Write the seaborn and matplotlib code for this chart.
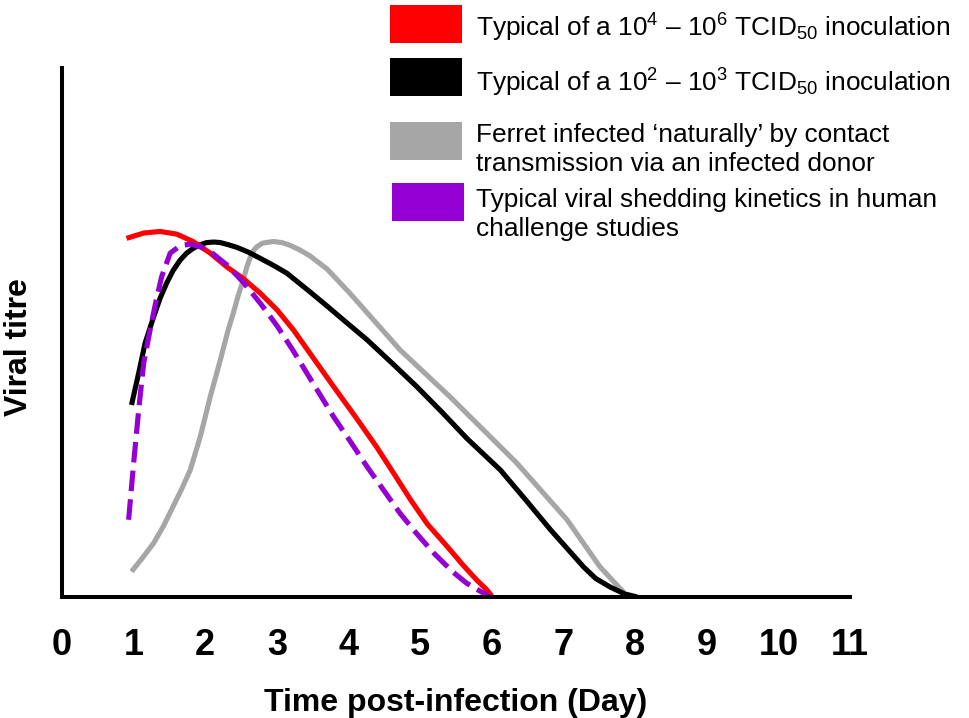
import matplotlib
matplotlib.use("Agg")
import matplotlib.pyplot as plt
from matplotlib.patches import Rectangle
import seaborn as sns

# values (day, relative titre 0-10)
red_day = [0.90, 1.14, 1.37, 1.60, 1.83, 2.07, 2.30, 2.53, 2.77, 3.00, 3.23, 3.46,
           3.79, 4.10, 4.39, 4.62, 4.86, 5.10, 5.38, 5.60, 5.79, 5.92, 6.00]
red_titre = [6.78, 6.88, 6.91, 6.86, 6.72, 6.50, 6.24, 6.02, 5.74, 5.43, 5.05, 4.61,
             3.98, 3.40, 2.84, 2.36, 1.85, 1.38, 0.95, 0.60, 0.32, 0.15, 0.02]

black_day = [0.97, 1.07, 1.16, 1.28, 1.37, 1.46, 1.55, 1.65, 1.74, 1.83, 1.93, 2.02,
             2.12, 2.21, 2.32, 2.44, 2.60, 2.77, 2.95, 3.14, 3.46, 3.70, 3.90, 4.26,
             4.60, 4.95, 5.30, 5.65, 6.12, 6.47, 6.82, 7.05, 7.28, 7.45, 7.65, 7.85, 8.03]
black_titre = [3.63, 4.23, 4.80, 5.30, 5.65, 5.93, 6.17, 6.37, 6.50, 6.59, 6.66, 6.70,
               6.71, 6.70, 6.66, 6.61, 6.52, 6.40, 6.27, 6.12, 5.77, 5.50, 5.27, 4.86,
               4.43, 3.98, 3.50, 3.00, 2.40, 1.84, 1.27, 0.92, 0.57, 0.35, 0.19, 0.06, 0.00]

grey_day = [0.97, 1.13, 1.28, 1.42, 1.55, 1.67, 1.79, 1.93, 2.07, 2.21, 2.32, 2.39,
            2.46, 2.53, 2.58, 2.63, 2.68, 2.72, 2.80, 2.95, 3.07, 3.18, 3.32, 3.46,
            3.70, 4.02, 4.72, 5.42, 6.35, 7.05, 7.51, 7.79, 7.85]
grey_titre = [0.48, 0.75, 1.02, 1.35, 1.71, 2.04, 2.40, 3.03, 3.79, 4.48, 5.05, 5.36,
              5.70, 5.99, 6.24, 6.43, 6.56, 6.62, 6.69, 6.72, 6.70, 6.65, 6.56, 6.45,
              6.20, 5.74, 4.67, 3.78, 2.53, 1.46, 0.57, 0.16, 0.08]

purple_day = [0.93, 1.00, 1.07, 1.14, 1.23, 1.31, 1.39, 1.51, 1.65, 1.79, 1.93, 2.07,
              2.30, 2.53, 2.77, 3.00, 3.23, 3.50, 3.79, 4.03, 4.26, 4.50, 4.72, 4.95,
              5.19, 5.45, 5.65, 5.85, 5.98]
purple_titre = [1.46, 2.53, 3.53, 4.42, 5.05, 5.58, 6.05, 6.50, 6.64, 6.67, 6.62, 6.53,
                6.28, 5.95, 5.55, 5.13, 4.65, 4.05, 3.41, 2.93, 2.46, 2.00, 1.58, 1.20,
                0.83, 0.48, 0.26, 0.10, 0.00]

series_labels = [
    r"Typical of a $\mathregular{10^4}$ – $\mathregular{10^6}$ $\mathregular{TCID_{50}}$ inoculation",
    r"Typical of a $\mathregular{10^2}$ – $\mathregular{10^3}$ $\mathregular{TCID_{50}}$ inoculation",
    "Ferret infected ‘naturally’ by contact\ntransmission via an infected donor",
    "Typical viral shedding kinetics in human\nchallenge studies",
]
series_colors = ["#FF0000", "#000000", "#A6A6A6", "#9400D3"]
day_ticks = list(range(0, 12))

sns.set_style("white")
plt.rcParams["font.family"] = ["Liberation Sans", "DejaVu Sans"]
plt.rcParams["mathtext.fontset"] = "custom"
plt.rcParams["mathtext.rm"] = "Liberation Sans"
plt.rcParams["lines.solid_capstyle"] = "butt"
plt.rcParams["text.color"] = "black"
plt.rcParams["axes.labelcolor"] = "black"

fig = plt.figure(figsize=(9.7, 7.18), dpi=100)
ax = fig.add_axes([62 / 970, 1 - 597 / 718, 788 / 970, 529 / 718])

lw = 3.7
# grey first so the others sit on top
sns.lineplot(x=grey_day, y=grey_titre, color=series_colors[2], lw=lw, ax=ax,
             estimator=None, sort=False)
sns.lineplot(x=black_day, y=black_titre, color=series_colors[1], lw=lw, ax=ax,
             estimator=None, sort=False)
sns.lineplot(x=red_day, y=red_titre, color=series_colors[0], lw=lw, ax=ax,
             estimator=None, sort=False)
sns.lineplot(x=purple_day, y=purple_titre, color=series_colors[3], lw=lw, ax=ax,
             estimator=None, sort=False)
ax.lines[-1].set_dashes((4, 1.6))
for ln in ax.lines:
    ln.set_solid_joinstyle("round")

ax.set_xlim(0, 11)
ax.set_ylim(0, 10)
ax.set_xticks(day_ticks)
ax.set_xticklabels([str(d) for d in day_ticks], fontsize=26, fontweight="bold")
ax.set_yticks([])
for side in ["top", "right"]:
    ax.spines[side].set_visible(False)
for side in ["left", "bottom"]:
    ax.spines[side].set_linewidth(2.9)
    ax.spines[side].set_color("black")
ax.tick_params(axis="x", direction="out", length=11, width=2.4, pad=11, colors="black")

ax.set_xlabel("Time post-infection (Day)", fontsize=23, fontweight="bold", labelpad=18)
ax.set_ylabel("Viral titre", fontsize=23, fontweight="bold")
ax.yaxis.set_label_coords(-0.036, 0.473)

# legend boxes and labels (pixel positions from the reference)
box_x = [390, 390, 390, 392]
box_top = [5, 58, 122, 183]
text_base = [37, 92, 142, 207]
for lab, col, bx, bt, tb in zip(series_labels, series_colors, box_x, box_top, text_base):
    fig.add_artist(Rectangle((bx / 970, 1 - (bt + 38) / 718), 72 / 970, 38 / 718,
                             transform=fig.transFigure, color=col, lw=0))
    for i, line in enumerate(lab.split("\n")):
        fig.text(476 / 970, 1 - (tb + i * 29) / 718, line, fontsize=18.9,
                 va="baseline", ha="left")

fig.savefig("out.png", dpi=100)
